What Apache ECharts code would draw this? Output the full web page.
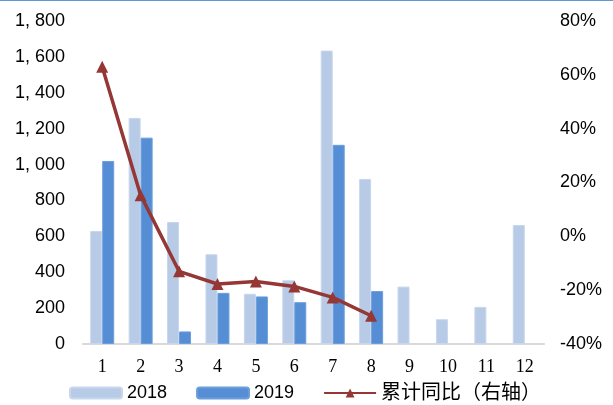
<!DOCTYPE html>
<html>
<head>
<meta charset="utf-8">
<script src="https://cdn.jsdelivr.net/npm/echarts@6/dist/echarts.min.js"></script>
<style>
  html, body { margin: 0; padding: 0; background: #fff; }
  #chart { width: 613px; height: 405px; border-top: 1px solid #5b9bd5; box-sizing: border-box; }
</style>
</head>
<body>
<div id="chart"></div>
<script>
// Monthly values (1–12) and cumulative year-on-year change
const months = ['1', '2', '3', '4', '5', '6', '7', '8', '9', '10', '11', '12'];
const values2018 = [630, 1260, 680, 500, 280, 355, 1635, 920, 320, 138, 207, 663];
const values2019 = [1020, 1150, 70, 285, 265, 233, 1110, 295];
const cumulativeYoY = [63, 15.3, -13, -17.7, -16.8, -18.6, -22.7, -29.5];

// Tick settings
const leftMin = 0, leftMax = 1800, leftStep = 200;
const rightMin = -40, rightMax = 80, rightStep = 20;

const chart = echarts.init(document.getElementById('chart'));
const numFont = 'Liberation Sans, Arial, sans-serif';

chart.setOption({
  animation: false,
  grid: { left: 83, right: 69, top: 20, bottom: 61 },
  legend: {
    left: 64,
    top: 377,
    itemWidth: 52,
    itemHeight: 11,
    itemGap: 29,
    textStyle: { fontSize: 18, color: '#000', fontFamily: 'Liberation Sans, Noto Sans CJK SC, sans-serif' },
    data: [
      { name: '2018' },
      { name: '2019' },
      { name: '累计同比（右轴）', textStyle: { fontSize: 20 } }
    ]
  },
  xAxis: {
    type: 'category',
    data: months,
    axisLine: { lineStyle: { color: '#d9d9d9', width: 2 } },
    axisTick: { show: false },
    axisLabel: { fontSize: 18, color: '#000', fontFamily: 'Liberation Serif, Times New Roman, serif', margin: 14 }
  },
  yAxis: [
    {
      type: 'value',
      min: leftMin, max: leftMax, interval: leftStep,
      axisLine: { show: false },
      axisTick: { show: false },
      splitLine: { show: false },
      axisLabel: {
        fontSize: 18, color: '#000', fontFamily: numFont, margin: 18,
        formatter: v => v >= 1000 ? Math.floor(v / 1000) + ', ' + String(v % 1000).padStart(3, '0') : String(v)
      }
    },
    {
      type: 'value',
      min: rightMin, max: rightMax, interval: rightStep,
      axisLine: { show: false },
      axisTick: { show: false },
      splitLine: { show: false },
      axisLabel: {
        fontSize: 18, color: '#000', fontFamily: numFont, margin: 16,
        formatter: v => v + '%'
      }
    }
  ],
  series: [
    {
      name: '2018',
      type: 'bar',
      data: values2018,
      barWidth: 12,
      barGap: '0%',
      itemStyle: { color: '#b7cbe6', borderColor: '#c8d7ee', borderWidth: 1 }
    },
    {
      name: '2019',
      type: 'bar',
      data: values2019,
      barWidth: 12,
      itemStyle: { color: '#558ed5', borderColor: '#6c9edc', borderWidth: 1 }
    },
    {
      name: '累计同比（右轴）',
      type: 'line',
      yAxisIndex: 1,
      data: cumulativeYoY,
      symbol: 'triangle',
      symbolSize: 12,
      lineStyle: { color: '#953735', width: 3.5 },
      itemStyle: { color: '#953735' },
      z: 5
    }
  ]
});
</script>
</body>
</html>
